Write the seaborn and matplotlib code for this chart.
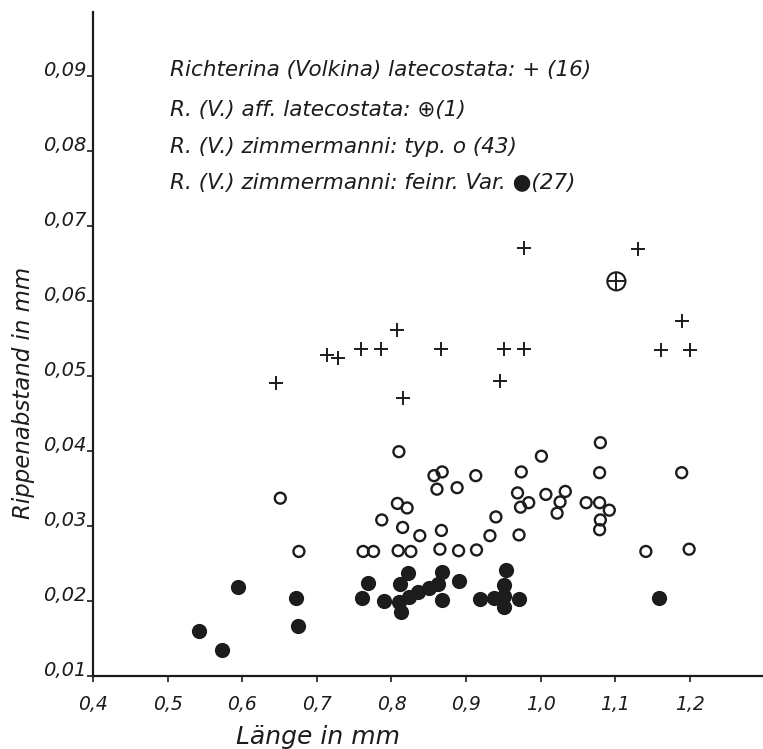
import matplotlib
matplotlib.use("Agg")
import matplotlib.pyplot as plt
import seaborn as sns
import pandas as pd

# ---- data ----
cross_x = [0.977, 1.130, 1.190, 0.807, 0.713, 0.729, 0.759, 0.786, 0.866, 0.951,
           0.977, 1.161, 1.200, 0.645, 0.945, 0.815]
cross_y = [0.0670, 0.0669, 0.0573, 0.0561, 0.0528, 0.0524, 0.0536, 0.0536, 0.0536, 0.0536,
           0.0536, 0.0534, 0.0534, 0.0491, 0.0493, 0.0470]

aff_x = [1.1015]
aff_y = [0.0626]

open_x = [0.651, 0.676, 0.810, 0.857, 0.868, 0.861, 0.888, 0.913, 0.808, 0.821,
          0.787, 0.815, 0.838, 0.867, 0.940, 0.932, 0.762, 0.776, 0.809, 0.826,
          0.865, 0.890, 0.914, 1.080, 1.001, 0.974, 1.079, 0.969, 0.984, 0.973,
          1.007, 1.033, 1.026, 1.022, 1.061, 1.079, 1.092, 1.080, 1.079, 0.971,
          1.189, 1.141, 1.199]
open_y = [0.0337, 0.0266, 0.0399, 0.0367, 0.0372, 0.0349, 0.0351, 0.0367, 0.0330, 0.0324,
          0.0308, 0.0298, 0.0287, 0.0294, 0.0312, 0.0287, 0.0266, 0.0266, 0.0267, 0.0266,
          0.0269, 0.0267, 0.0268, 0.0411, 0.0393, 0.0372, 0.0371, 0.0344, 0.0331, 0.0325,
          0.0342, 0.0346, 0.0332, 0.0317, 0.0331, 0.0331, 0.0321, 0.0308, 0.0295, 0.0288,
          0.0371, 0.0266, 0.0269]

fill_x = [0.542, 0.573, 0.595, 0.672, 0.675, 0.769, 0.760, 0.790, 0.822, 0.811,
          0.810, 0.813, 0.823, 0.836, 0.850, 0.862, 0.868, 0.868, 0.890, 0.953,
          0.951, 0.919, 0.937, 0.951, 0.951, 0.971, 1.159]
fill_y = [0.0160, 0.0135, 0.0219, 0.0204, 0.0167, 0.0224, 0.0204, 0.0200, 0.0237, 0.0222,
          0.0199, 0.0185, 0.0205, 0.0212, 0.0217, 0.0223, 0.0239, 0.0201, 0.0226, 0.0241,
          0.0221, 0.0203, 0.0204, 0.0206, 0.0192, 0.0203, 0.0204]

x_ticks = [0.4, 0.5, 0.6, 0.7, 0.8, 0.9, 1.0, 1.1, 1.2]
x_tick_labels = ["0,4", "0,5", "0,6", "0,7", "0,8", "0,9", "1,0", "1,1", "1,2"]
y_ticks = [0.01, 0.02, 0.03, 0.04, 0.05, 0.06, 0.07, 0.08, 0.09]
y_tick_labels = ["0,01", "0,02", "0,03", "0,04", "0,05", "0,06", "0,07", "0,08", "0,09"]

legend_lines = [
    "Richterina (Volkina) latecostata: + (16)",
    "R. (V.) aff. latecostata: \u2295(1)",
    "R. (V.) zimmermanni: typ. o (43)",
    "R. (V.) zimmermanni: feinr. Var. \u25CF(27)",
]
x_label = "Länge in mm"
y_label = "Rippenabstand in mm"

# ---- plot ----
sns.set_style("ticks")
plt.rcParams["font.family"] = ["DejaVu Sans"]
plt.rcParams["font.style"] = "italic"
ink = "#1c1c1c"

df_cross = pd.DataFrame({"x": cross_x, "y": cross_y})
df_aff = pd.DataFrame({"x": aff_x, "y": aff_y})
df_open = pd.DataFrame({"x": open_x, "y": open_y})
df_fill = pd.DataFrame({"x": fill_x, "y": fill_y})

fig = plt.figure(figsize=(7.63, 7.49), dpi=100)
ax = fig.add_axes([93 / 763, 73 / 749, 670 / 763, 664 / 749])

sns.scatterplot(data=df_cross, x="x", y="y", ax=ax, marker="+", s=100,
                color=ink, linewidth=1.4, legend=False)
sns.scatterplot(data=df_aff, x="x", y="y", ax=ax, marker="o", s=170,
                facecolor="none", edgecolor=ink, linewidth=1.5, legend=False)
sns.scatterplot(data=df_aff, x="x", y="y", ax=ax, marker="+", s=170,
                color=ink, linewidth=1.4, legend=False)
sns.scatterplot(data=df_open, x="x", y="y", ax=ax, marker="o", s=62,
                facecolor="none", edgecolor=ink, linewidth=1.7, legend=False)
sns.scatterplot(data=df_fill, x="x", y="y", ax=ax, marker="o", s=120,
                color=ink, edgecolor=ink, linewidth=0, legend=False)

ax.set_xlim(0.4, 1.298)
ax.set_ylim(0.01, 0.0985)
ax.set_xticks(x_ticks)
ax.set_xticklabels(x_tick_labels, fontsize=13.5, color=ink, style="italic")
ax.set_yticks(y_ticks)
ax.set_yticklabels(y_tick_labels, fontsize=14, color=ink, style="italic",
                   va="baseline")
ax.tick_params(axis="both", direction="out", length=4, width=1.2, color=ink)
ax.tick_params(axis="y", pad=1)
ax.tick_params(axis="x", pad=10)

for side in ("top", "right"):
    ax.spines[side].set_visible(False)
for side in ("left", "bottom"):
    ax.spines[side].set_linewidth(1.6)
    ax.spines[side].set_color(ink)

ax.set_xlabel(x_label, fontsize=18, color=ink, style="italic")
ax.set_ylabel(y_label, fontsize=16.5, color=ink, style="italic")
ax.xaxis.set_label_coords(0.336, -0.074)
ax.yaxis.set_label_coords(-0.087, 0.426)

legend_y = [70, 110, 147, 183]
for line, py in zip(legend_lines, legend_y):
    fig.text(170 / 763, 1 - py / 749, line, fontsize=15.5, color=ink,
             style="italic", ha="left", va="center")

fig.savefig("out.png", dpi=100, facecolor="white")
